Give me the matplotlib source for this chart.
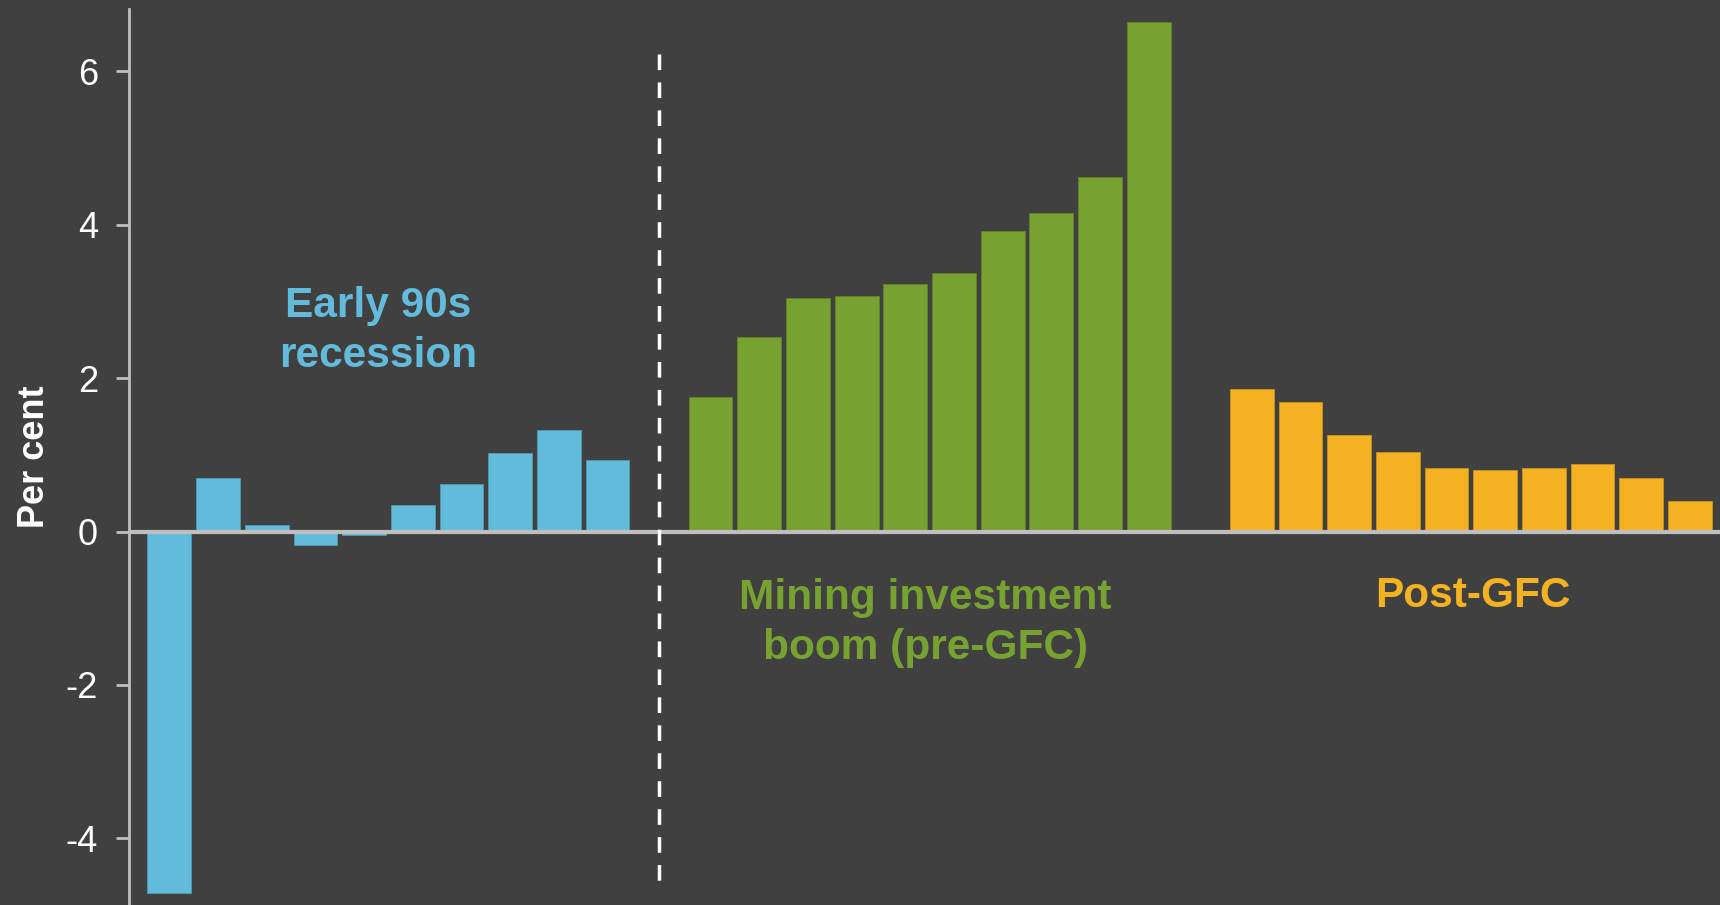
"""
Bar chart of growth across three episodes: the early 90s recession,
the mining investment boom (pre-GFC) and the post-GFC period.
"""

# Import modules and packages
import numpy as np
from matplotlib import pyplot as plt

# Data (per cent)
recession_vals = [-4.72, 0.70, 0.08, -0.17, -0.05, 0.35, 0.62, 1.03, 1.32, 0.93]
boom_vals = [1.75, 2.54, 3.04, 3.07, 3.23, 3.37, 3.92, 4.16, 4.62, 6.65]
post_gfc_vals = [1.86, 1.69, 1.26, 1.04, 0.83, 0.80, 0.83, 0.88, 0.70, 0.40]

group_labels = ['Early 90s\nrecession', 'Mining investment\nboom (pre-GFC)', 'Post-GFC']
y_ticks = [-4, -2, 0, 2, 4, 6]

# Style
BG = '#404040'
AXIS = '#BFBFBF'
COLORS = ['#63BBDB', '#77A130', '#F4B223']
EDGES = ['#4F96B0', '#5F8126', '#C38E1C']
GROUP_STEP = 11.12   # slots between the first bar of each group

plt.rcParams['font.family'] = ['Liberation Sans', 'DejaVu Sans']
plt.rcParams['axes.unicode_minus'] = False


def draw_group(ax, values: list, start: float, color: str, edge: str) -> np.ndarray:
    """
    Draw one block of bars starting at slot `start` and return their x positions.
    """
    x = start + np.arange(len(values))
    ax.bar(x, values, width=0.9, color=color, edgecolor=edge,
           linewidth=0.7, zorder=2)
    return x


fig = plt.figure(figsize=(17.2, 9.05), dpi=100, facecolor=BG)
ax_top = 1 - 9.3 / 905
ax = fig.add_axes([129 / 1720, 0, 1 - 129 / 1720, ax_top])
ax.set_facecolor(BG)

series = [recession_vals, boom_vals, post_gfc_vals]
positions = []
for i, vals in enumerate(series):
    positions.append(draw_group(ax, vals, i * GROUP_STEP, COLORS[i], EDGES[i]))

# zero line and divider between recession and boom
ax.axhline(0, color=AXIS, linewidth=3, zorder=3)
split_x = (positions[0][-1] + positions[1][0]) / 2
ax.plot([split_x, split_x], [6.23, -4.56], color='white', linewidth=2.5,
        linestyle=(0, (4.5, 3.55)), zorder=3)

# group annotations (y is the baseline of the last line)
ax.text(4.30, 2.15, group_labels[0], color=COLORS[0], fontsize=30.5,
        fontweight='bold', ha='center', va='baseline', linespacing=1.32)
ax.text(15.54, -1.66, group_labels[1], color=COLORS[1], fontsize=30.5,
        fontweight='bold', ha='center', va='baseline', linespacing=1.32)
ax.text(26.78, -0.99, group_labels[2], color=COLORS[2], fontsize=30.5,
        fontweight='bold', ha='center', va='baseline')

# axes
ax.set_xlim(-0.83, 31.86)
ax.set_ylim(-4.87, 6.81)
ax.set_yticks(y_ticks)
ax.set_yticklabels([str(t) for t in y_ticks])
ax.set_xticks([])
for side in ['top', 'right', 'bottom']:
    ax.spines[side].set_visible(False)
ax.spines['left'].set_color(AXIS)
ax.spines['left'].set_linewidth(2)
ax.tick_params(axis='y', colors=AXIS, length=9.4, width=2, pad=13,
               labelsize=26, labelcolor='white')

# rotated label: the baseline runs along the right-hand side of the glyphs
fig.text(44.3 / 1720, ax_top / 2, 'Per cent', color='white', fontsize=26,
         fontweight='bold', rotation=90, rotation_mode='anchor',
         ha='center', va='baseline')

fig.savefig('out.png', dpi=100, facecolor=BG)
